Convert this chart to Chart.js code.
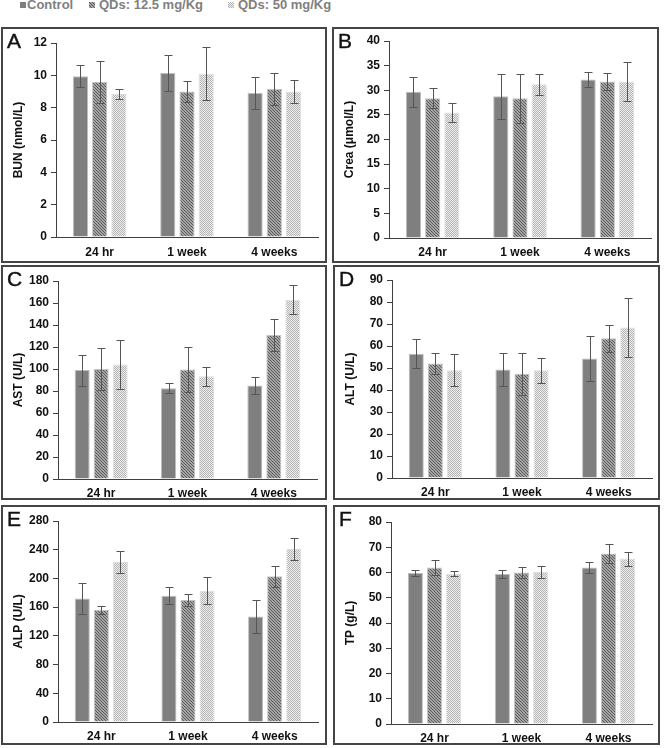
<!DOCTYPE html>
<html>
<head>
<meta charset="utf-8">
<script src="https://cdn.jsdelivr.net/npm/chart.js@4.4.1/dist/chart.umd.min.js"></script>
<style>
body { margin:0; width:664px; height:748px; background:#fff; position:relative; overflow:hidden; }
.legend { position:absolute; left:0; top:0; font:bold 13px 'Liberation Sans', Arial, sans-serif; color:#808080; white-space:nowrap; }
.legend span { position:absolute; top:-2px; line-height:14px; }
.legend canvas { position:absolute; top:2px; }
.panel { position:absolute; border:2px solid #454545; box-sizing:border-box; background:#fff; }
.panel .wrap { position:absolute; left:0; top:0; right:0; bottom:0; }
.letter { position:absolute; left:4px; top:1px; font:21px 'Liberation Sans', Arial, sans-serif; line-height:21px; color:#111; z-index:2; -webkit-text-stroke:0.4px #111; }
</style>
</head>
<body>
<div class="legend" id="legend"></div>
<script>
var groups = ['24 hr', '1 week', '4 weeks'];
var seriesNames = ['Control', 'QDs: 12.5 mg/Kg', 'QDs: 50 mg/Kg'];

// BUN (nmol/L)
var bunControl = [9.95, 10.15, 8.9];
var bunControlSd = [0.7, 1.1, 1.0];
var bunLow = [9.6, 9.0, 9.15];
var bunLowSd = [1.3, 0.65, 1.0];
var bunHigh = [8.85, 10.1, 9.0];
var bunHighSd = [0.3, 1.65, 0.7];

// Crea (umol/L)
var creaControl = [29.7, 28.8, 32.2];
var creaControlSd = [3.0, 4.6, 1.5];
var creaLow = [28.4, 28.4, 31.8];
var creaLowSd = [2.0, 5.0, 1.7];
var creaHigh = [25.5, 31.2, 31.8];
var creaHighSd = [2.0, 2.2, 4.0];

// AST (U/L)
var astControl = [99, 82.5, 85];
var astControlSd = [14, 4.5, 7.5];
var astLow = [100, 99.5, 131];
var astLowSd = [19.5, 20.5, 14.5];
var astHigh = [104, 93.5, 163];
var astHighSd = [22, 8.5, 13];

// ALT (U/L)
var altControl = [56.5, 49.3, 54.3];
var altControlSd = [6.5, 7.6, 10.3];
var altLow = [52, 47.4, 63.5];
var altLowSd = [4.7, 9.6, 6];
var altHigh = [49, 49, 68.4];
var altHighSd = [7.3, 5.7, 13.6];

// ALP (U/L)
var alpControl = [172, 176, 147];
var alpControlSd = [22, 12, 23];
var alpLow = [156, 170, 203];
var alpLowSd = [6, 9, 15];
var alpHigh = [223, 183, 241];
var alpHighSd = [15, 19, 15];

// TP (g/L)
var tpControl = [59.8, 59.4, 62];
var tpControlSd = [1.2, 1.6, 2.3];
var tpLow = [62, 60, 67.5];
var tpLowSd = [3, 2.2, 3.7];
var tpHigh = [59.5, 60.2, 65.5];
var tpHighSd = [1, 2.5, 2.8];

// panel layout: box = [left, top, width, height], other numbers are page pixels
var panels = [
  { letter:'A', title:'BUN (nmol/L)', max:12, step:2, values:[bunControl, bunLow, bunHigh], errors:[bunControlSd, bunLowSd, bunHighSd],
    box:[1, 27, 326, 236], axisX:56, top:43, bottom:237, right:318, labelY:252 },
  { letter:'B', title:'Crea (\u03bcmol/L)', max:40, step:5, values:[creaControl, creaLow, creaHigh], errors:[creaControlSd, creaLowSd, creaHighSd],
    box:[332, 27, 327, 236], axisX:389, top:41, bottom:238, right:651, labelY:252 },
  { letter:'C', title:'AST (U/L)', max:180, step:20, values:[astControl, astLow, astHigh], errors:[astControlSd, astLowSd, astHighSd],
    box:[1, 265, 326, 235], axisX:58, top:281, bottom:479, right:317, labelY:493 },
  { letter:'D', title:'ALT (U/L)', max:90, step:10, values:[altControl, altLow, altHigh], errors:[altControlSd, altLowSd, altHighSd],
    box:[333, 265, 327, 235], axisX:392, top:280, bottom:478, right:652, labelY:492 },
  { letter:'E', title:'ALP (U/L)', max:280, step:40, values:[alpControl, alpLow, alpHigh], errors:[alpControlSd, alpLowSd, alpHighSd],
    box:[1, 505, 326, 240], axisX:58, top:521, bottom:722, right:318, labelY:736 },
  { letter:'F', title:'TP (g/L)', max:80, step:10, values:[tpControl, tpLow, tpHigh], errors:[tpControlSd, tpLowSd, tpHighSd],
    box:[333, 505, 327, 240], axisX:391, top:522, bottom:724, right:652, labelY:738 }
];

function makeTile(w, h, draw) {
  var c = document.createElement('canvas');
  c.width = w; c.height = h;
  draw(c.getContext('2d'));
  return c;
}

// diagonal hatch for 12.5 mg/Kg, fine dots for 50 mg/Kg
var hatchTile = makeTile(3, 3, function (g) {
  g.fillStyle = '#a4a4a4'; g.fillRect(0, 0, 3, 3);
  g.fillStyle = '#5c5c5c';
  for (var i = 0; i < 3; i++) { g.fillRect(i, i, 1, 1); }
});
var dotTile = makeTile(2, 2, function (g) {
  g.fillStyle = '#eeeeee'; g.fillRect(0, 0, 2, 2);
  g.fillStyle = '#b4b4b4'; g.fillRect(0, 0, 1, 1); g.fillRect(1, 1, 1, 1);
});
var patCtx = document.createElement('canvas').getContext('2d');
var fills = ['#7f7f7f', patCtx.createPattern(hatchTile, 'repeat'), patCtx.createPattern(dotTile, 'repeat')];
var edges = ['#bdbdbd', '#c4c4c4', '#dedede'];

var tickFont = { family: "'Liberation Sans', Arial, sans-serif", size: 12, weight: 'bold', lineHeight: 1.2 };
var titleFont = { family: "'Liberation Sans', Arial, sans-serif", size: 12, weight: 'bold', lineHeight: 1.2 };

var errorBars = {
  id: 'errorBars',
  afterDatasetsDraw: function (chart) {
    var ctx = chart.ctx, ys = chart.scales.y;
    ctx.save();
    ctx.strokeStyle = '#555555';
    ctx.lineWidth = 1;
    chart.data.datasets.forEach(function (ds, i) {
      chart.getDatasetMeta(i).data.forEach(function (bar, j) {
        var v = ds.data[j], e = ds.errors[j];
        var x = Math.round(bar.x) + 0.5;
        var hi = Math.round(ys.getPixelForValue(v + e)) + 0.5;
        var lo = Math.round(ys.getPixelForValue(v - e)) + 0.5;
        ctx.beginPath();
        ctx.moveTo(x, hi); ctx.lineTo(x, lo);
        ctx.moveTo(x - 4, hi); ctx.lineTo(x + 4, hi);
        ctx.moveTo(x - 4, lo); ctx.lineTo(x + 4, lo);
        ctx.stroke();
      });
    });
    ctx.restore();
  }
};

function buildLegend() {
  var lg = document.getElementById('legend');
  var marks = [20, 89, 228], texts = [27, 99, 238];
  seriesNames.forEach(function (name, i) {
    var m = document.createElement('canvas');
    m.width = 6; m.height = 6;
    m.style.left = marks[i] + 'px';
    var g = m.getContext('2d');
    g.fillStyle = fills[i];
    g.fillRect(0, 0, 6, 6);
    lg.appendChild(m);
    var s = document.createElement('span');
    s.textContent = name;
    s.style.left = texts[i] + 'px';
    lg.appendChild(s);
  });
}

function createBarChart(p) {
  var div = document.createElement('div');
  div.className = 'panel';
  div.style.left = p.box[0] + 'px';
  div.style.top = p.box[1] + 'px';
  div.style.width = p.box[2] + 'px';
  div.style.height = p.box[3] + 'px';
  var lt = document.createElement('div');
  lt.className = 'letter';
  lt.textContent = p.letter;
  div.appendChild(lt);
  var wrap = document.createElement('div');
  wrap.className = 'wrap';
  var cv = document.createElement('canvas');
  wrap.appendChild(cv);
  div.appendChild(wrap);
  document.body.appendChild(div);

  var cl = p.box[0] + 2, ct = p.box[1] + 2;
  var cw = p.box[2] - 4, ch = p.box[3] - 4;

  new Chart(cv, {
    type: 'bar',
    data: {
      labels: groups,
      datasets: seriesNames.map(function (name, i) {
        return {
          label: name,
          data: p.values[i],
          errors: p.errors[i],
          backgroundColor: fills[i],
          borderColor: edges[i],
          borderWidth: 1,
          barPercentage: 0.79,
          categoryPercentage: 0.66
        };
      })
    },
    options: {
      responsive: true,
      maintainAspectRatio: false,
      animation: false,
      layout: { padding: { left: 0, top: p.top - ct, right: cl + cw - p.right, bottom: 0 } },
      plugins: { legend: { display: false }, tooltip: { enabled: false } },
      scales: {
        x: {
          grid: { display: false, drawTicks: false },
          border: { display: true, color: '#404040', width: 1 },
          ticks: { color: '#111', font: tickFont, padding: p.labelY - p.bottom - 7 },
          afterFit: function (s) { s.height = ct + ch - p.bottom; }
        },
        y: {
          min: 0,
          max: p.max,
          ticks: { stepSize: p.step, color: '#111', font: tickFont, padding: 4 },
          grid: { drawOnChartArea: false, drawTicks: true, tickLength: 5, color: '#404040' },
          border: { color: '#404040', width: 1 },
          title: { display: true, text: p.title, color: '#111', font: titleFont, padding: { top: 8, bottom: 0 } },
          afterFit: function (s) { s.width = p.axisX - cl; }
        }
      }
    },
    plugins: [errorBars]
  });
}

buildLegend();
panels.forEach(createBarChart);
</script>
</body>
</html>
